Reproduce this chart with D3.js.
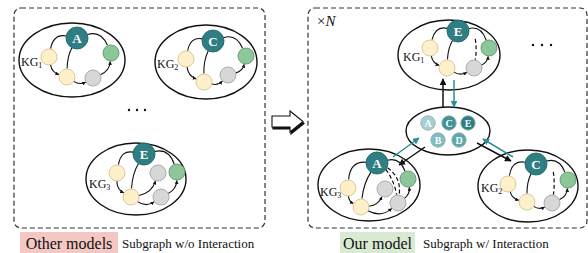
<!DOCTYPE html>
<html><head><meta charset="utf-8">
<script src="https://cdn.jsdelivr.net/npm/d3@7"></script>
<style>body{margin:0;background:#fff}svg{display:block}text{font-family:"Liberation Serif","Times New Roman",Times,serif}</style>
</head><body>
<script>
// ---------- data ----------
const hubLetters = ["A","C","E","E","A","C"];
const kgIndex    = [1,2,3,1,3,2];
const sharedLetters = ["A","C","E","B","D"];
const panelTitles = ["Other models","Our model"];
const panelSubtitles = ["Subgraph w/o Interaction","Subgraph w/ Interaction"];

// ---------- layout ----------
const W=588,H=253;
const svg=d3.select("body").append("svg").attr("width",W).attr("height",H);
const col={hub:"#2f7e83",hubS:"#23676b",y:"#fdf0cb",yS:"#d8c38c",g:"#d7d7d7",gS:"#a5a5a5",gr:"#8dc69b",grS:"#5e9b6c",teal:"#2b8d94"};
const defs=svg.append("defs");
function marker(id,c,s){defs.append("marker").attr("id",id).attr("viewBox","0 0 10 10").attr("refX",9).attr("refY",5)
 .attr("markerWidth",s).attr("markerHeight",s).attr("orient","auto-start-reverse")
 .append("path").attr("d","M0,0L10,5L0,10z").attr("fill",c);}
marker("ab","#111",4.5);marker("at",col.teal,4.5);marker("abs","#111",3.4);

// panels
[[14,8,251,220],[308,8,279,220]].forEach(p=>svg.append("rect").attr("x",p[0]).attr("y",p[1]).attr("width",p[2]).attr("height",p[3])
  .attr("rx",7).attr("fill","none").attr("stroke","#333").attr("stroke-width",1.2).attr("stroke-dasharray","5,3"));

// subgraph layouts: ellipse + nodes
const layouts=[
 {e:[72,60,53,37], n:{h:[77,38],y1:[49,57],y2:[67,77],g1:[93,78],gr:[111,53]}, kg:[21,66], type:"a"},
 {e:[206,62,51,37],n:{h:[213,41],y1:[186,59],y2:[204,82],g1:[228,75],gr:[246,56]}, kg:[157,68], type:"a"},
 {e:[136,179,50,36],n:{h:[144,154],y1:[117,173],y2:[131,197],g1:[158,173],gr:[177,172],g2:[161,197]}, kg:[89,188], type:"b"},
 {e:[449,55,51,35],n:{h:[458,31],y1:[430,48],y2:[447,68],g1:[474,68],gr:[489,48]}, kg:[403,61], type:"a", dash:true},
 {e:[369,185,51,36],n:{h:[377,163],y1:[348,188],y2:[361,207],g1:[385,189],gr:[408,179],g2:[398,203]}, kg:[320,196], type:"b", dash:true},
 {e:[528,186,50,36],n:{h:[536,164],y1:[508,184],y2:[527,202],g1:[552,203],gr:[568,180]}, kg:[481,192], type:"a", dash:true}
];
const edgesA=[["h","y1",0.5,0],["h","y2",0.12,0],["y1","y2",0.3,1],["y2","g1",0.3,1],["g1","gr",0.3,1],["h","gr",-0.45,0]];
const edgesB=[["h","y1",0.5,0],["h","y2",0.12,0],["y1","y2",0.3,1],["y2","g1",0.3,1],["y2","g2",0.35,1],["g2","gr",0.3,1],["h","gr",-0.45,0]];

function rad(k){return k==="h"?11:8;}
function edgePath(s,t,rs,rt,b){
  const mx=(s[0]+t[0])/2,my=(s[1]+t[1])/2,dx=t[0]-s[0],dy=t[1]-s[1];
  const cx=mx-b*dy,cy=my+b*dx;
  const a1=Math.atan2(cy-s[1],cx-s[0]),a2=Math.atan2(t[1]-cy,t[0]-cx);
  const p=d3.path();
  p.moveTo(s[0]+rs*Math.cos(a1),s[1]+rs*Math.sin(a1));
  p.quadraticCurveTo(cx,cy,t[0]-(rt+0.5)*Math.cos(a2),t[1]-(rt+0.5)*Math.sin(a2));
  return p.toString();
}

layouts.forEach((L,i)=>{
  const g=svg.append("g");
  g.append("ellipse").attr("cx",L.e[0]).attr("cy",L.e[1]).attr("rx",L.e[2]).attr("ry",L.e[3])
    .attr("fill","#fff").attr("stroke","#111").attr("stroke-width",1.4);
  const E=(L.type==="a"?edgesA:edgesB);
  E.forEach(([a,b,bend,arr])=>{
    g.append("path").attr("d",edgePath(L.n[a],L.n[b],rad(a),rad(b),bend)).attr("fill","none")
     .attr("stroke","#111").attr("stroke-width",1.1).attr("marker-end",arr?"url(#abs)":null);
  });
  if(L.dash){
    const tgts=L.type==="a"?[["g1",-0.08]]:[["g2",-0.12],["g2",-0.3]];
    tgts.forEach(([tk,bd])=>{
      const h=L.n.h,t=L.n[tk];
      const s=[h[0]+(L.type==="a"?16:4),h[1]];
      g.append("path").attr("d",edgePath(s,t,8,rad(tk),bd)).attr("fill","none")
       .attr("stroke","#111").attr("stroke-width",1.2).attr("stroke-dasharray","4,2.5");
    });
  }
  Object.entries(L.n).forEach(([k,p])=>{
    const t=k[0]==="h"?"hub":k==="gr"?"gr":k[0]==="y"?"y":"g";
    g.append("circle").attr("cx",p[0]).attr("cy",p[1]).attr("r",rad(k))
      .attr("fill",col[t]).attr("stroke",col[t+"S"]).attr("stroke-width",0.9);
  });
  g.append("text").attr("x",L.n.h[0]).attr("y",L.n.h[1]+4.5).attr("text-anchor","middle")
   .attr("font-weight","bold").attr("font-size",13).attr("fill","#fff").text(hubLetters[i]);
  const kt=g.append("text").attr("x",L.kg[0]).attr("y",L.kg[1]).attr("font-size",12).attr("fill","#111");
  kt.append("tspan").text("KG");
  kt.append("tspan").attr("font-size",8).attr("dy",2).text(kgIndex[i]);
});

// central shared ellipse
svg.append("ellipse").attr("cx",448).attr("cy",131).attr("rx",42).attr("ry",24).attr("fill","#fff").attr("stroke","#111").attr("stroke-width",1.4);
const sharedPos=[[428,123],[449,123],[468,123],[438,140],[459,140]];
const sharedFill=["#a3d0d4","#3f9298","#2d7e84","#7fbdc2","#5ca8ad"];
sharedLetters.forEach((l,i)=>{
  svg.append("circle").attr("cx",sharedPos[i][0]).attr("cy",sharedPos[i][1]).attr("r",7.2)
    .attr("fill",sharedFill[i]).attr("stroke","#9aa").attr("stroke-width",0.9);
  svg.append("text").attr("x",sharedPos[i][0]).attr("y",sharedPos[i][1]+3.6).attr("text-anchor","middle")
    .attr("font-weight","bold").attr("font-size",10).attr("fill","#fff").text(l);
});

// interaction arrows
function arrow(x1,y1,x2,y2,c,m){svg.append("line").attr("x1",x1).attr("y1",y1).attr("x2",x2).attr("y2",y2)
  .attr("stroke",c).attr("stroke-width",1.5).attr("marker-end",`url(#${m})`);}
arrow(443,108,443,79,"#111","ab");
arrow(454,80,454,107,col.teal,"at");
arrow(425,147,399,165,"#111","ab");
arrow(393,157,419,138,col.teal,"at");
arrow(477,143,511,161,"#111","ab");
arrow(513,157,483,139,col.teal,"at");

// dots
[[129,110],[137,110],[145,110],[533,45],[542,45],[551,45]].forEach(p=>svg.append("circle").attr("cx",p[0]).attr("cy",p[1]).attr("r",1.2).attr("fill","#111"));

// ×N
const xn=svg.append("text").attr("x",317).attr("y",26).attr("font-size",15).attr("fill","#111");
xn.append("tspan").text("×");xn.append("tspan").attr("font-style","italic").text("N");

// block arrow
const bp="M272,116 L290,116 L290,111 L303,121.5 L290,132 L290,127 L272,127 Z";
svg.append("path").attr("d",bp).attr("transform","translate(1,2)").attr("fill","#111").attr("stroke","#111").attr("stroke-width",1.2);
svg.append("path").attr("d",bp).attr("fill","#fff").attr("stroke","#111").attr("stroke-width",1.1);

// bottom labels
const labs=[{x:20,w:98,c:"#f4c7c3",tx:122},{x:340,w:75,c:"#d9ead3",tx:423}];
labs.forEach((l,i)=>{
  svg.append("rect").attr("x",l.x).attr("y",232).attr("width",l.w).attr("height",21).attr("fill",l.c);
  svg.append("text").attr("x",l.x+l.w/2).attr("y",249).attr("text-anchor","middle")
    .attr("font-size",16).attr("fill","#111").text(panelTitles[i]);
  svg.append("text").attr("x",l.tx).attr("y",248).attr("font-size",13).attr("fill","#111").text(panelSubtitles[i]);
});
</script>
</body></html>
